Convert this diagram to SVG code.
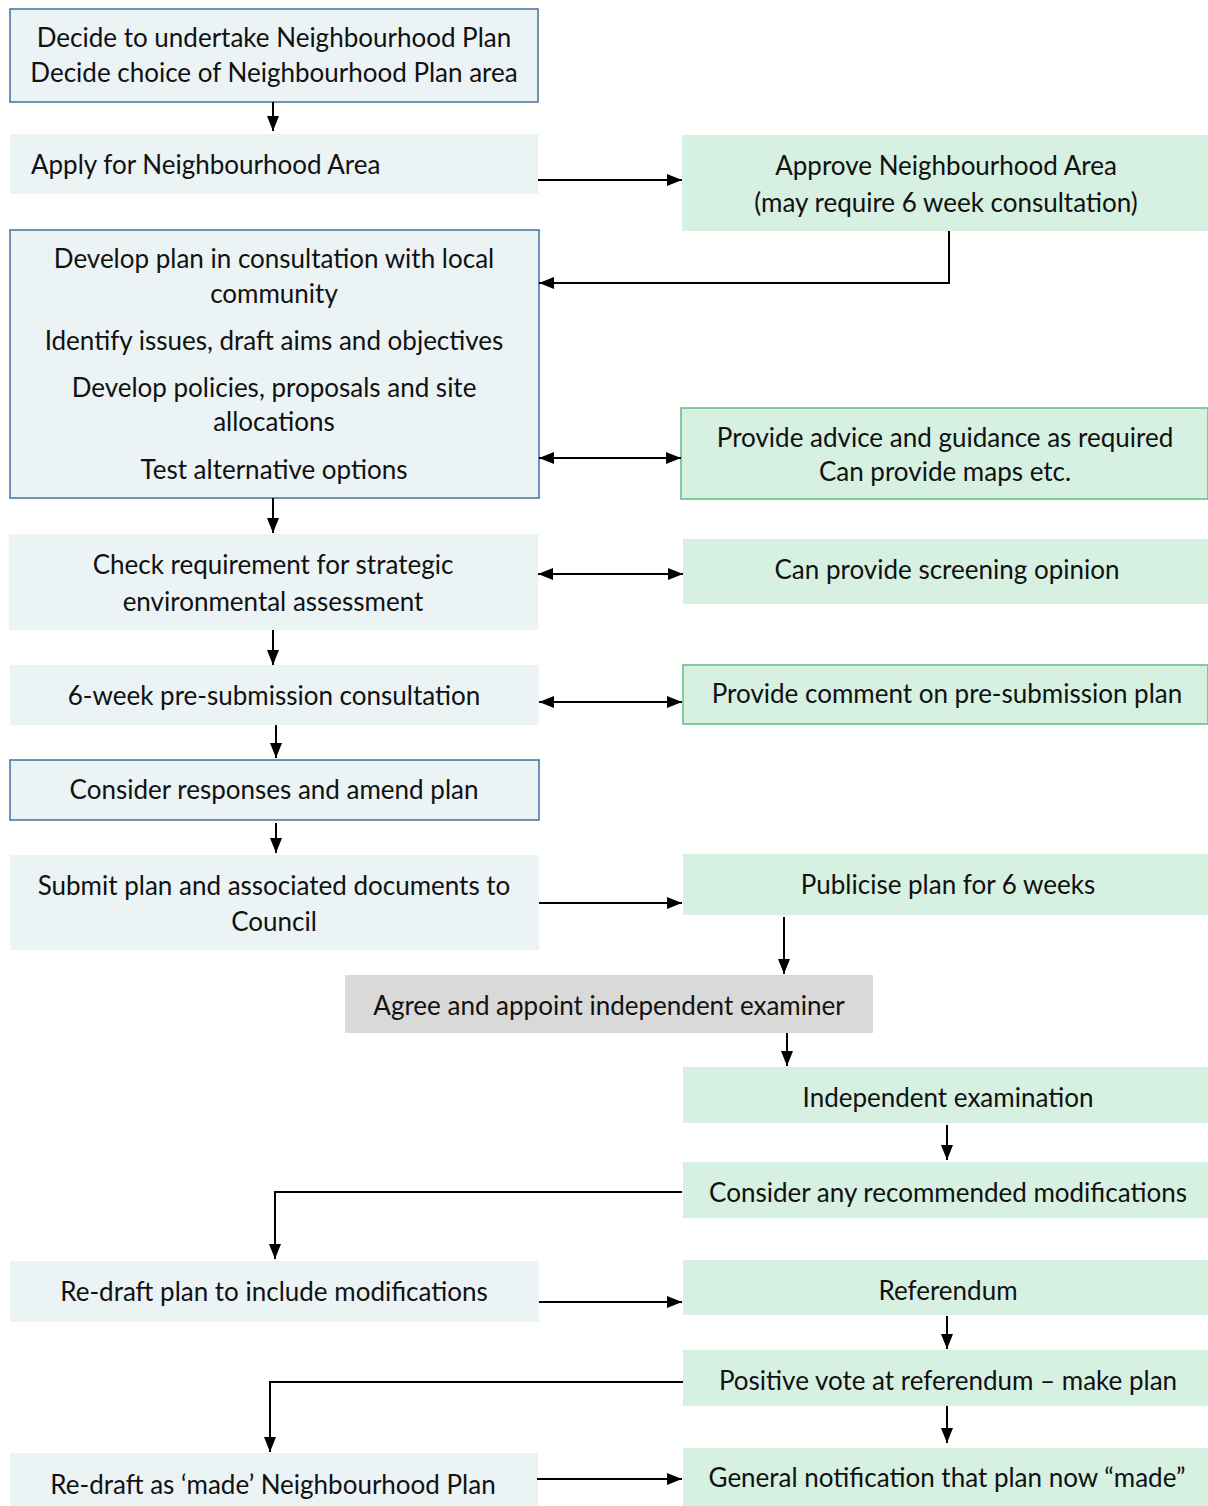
<svg xmlns="http://www.w3.org/2000/svg" width="1208" height="1506" viewBox="0 0 1208 1506">
<defs>
<style>
.blue{fill:#ebf3f5;}
.blueb{fill:#ebf3f5;stroke:#41719c;stroke-width:1.5;}
.green{fill:#d6f0e2;}
.greenb{fill:#d6f0e2;stroke:#5cbf7f;stroke-width:1.5;}
.gray{fill:#d9d9d9;}
text{font-family:Lato,"Liberation Sans",sans-serif;font-size:26px;fill:#111;text-anchor:middle;}
.l{text-anchor:start;}
.c{fill:none;stroke:#000;stroke-width:2;}
</style>
<marker id="ah" viewBox="0 0 15 12" refX="15" refY="6" markerWidth="15" markerHeight="12" markerUnits="userSpaceOnUse" orient="auto-start-reverse">
<path d="M0,0 L15,6 L0,12 z" fill="#000"/>
</marker>
</defs>
<rect width="1208" height="1506" fill="#fff"/>

<g id="n1"><rect class="blueb" x="10" y="9" width="528" height="93"/>
<text x="274" y="47">Decide to undertake Neighbourhood Plan</text>
<text x="274" y="82">Decide choice of Neighbourhood Plan area</text></g>

<g id="n2"><rect class="blue" x="10" y="134" width="528" height="60"/>
<text class="l" x="31" y="174">Apply for Neighbourhood Area</text></g>

<g id="n3"><rect class="green" x="682" y="135" width="526" height="96"/>
<text x="946" y="175">Approve Neighbourhood Area</text>
<text x="946" y="212">(may require 6 week consultation)</text></g>

<g id="n4"><rect class="blueb" x="10" y="230" width="529" height="268"/>
<text x="274" y="268">Develop plan in consultation with local</text>
<text x="274" y="303">community</text>
<text x="274" y="350">Identify issues, draft aims and objectives</text>
<text x="274" y="397">Develop policies, proposals and site</text>
<text x="274" y="431">allocations</text>
<text x="274" y="479">Test alternative options</text></g>

<g id="n5"><rect class="greenb" x="681" y="408" width="527" height="91"/>
<text x="945" y="447">Provide advice and guidance as required</text>
<text x="945" y="481">Can provide maps etc.</text></g>

<g id="n6"><rect class="blue" x="9" y="534" width="529" height="96"/>
<text x="273" y="574">Check requirement for strategic</text>
<text x="273" y="611">environmental assessment</text></g>

<g id="n7"><rect class="green" x="683" y="539" width="525" height="65"/>
<text x="947" y="579">Can provide screening opinion</text></g>

<g id="n8"><rect class="blue" x="10" y="665" width="529" height="60"/>
<text x="274" y="705">6-week pre-submission consultation</text></g>

<g id="n9"><rect class="greenb" x="683" y="665" width="525" height="59"/>
<text x="947" y="703">Provide comment on pre-submission plan</text></g>

<g id="n10"><rect class="blueb" x="10" y="760" width="529" height="60"/>
<text x="274" y="799">Consider responses and amend plan</text></g>

<g id="n11"><rect class="blue" x="10" y="855" width="529" height="95"/>
<text x="274" y="895">Submit plan and associated documents to</text>
<text x="274" y="931">Council</text></g>

<g id="n12"><rect class="green" x="683" y="854" width="525" height="61"/>
<text x="948" y="894">Publicise plan for 6 weeks</text></g>

<g id="n13"><rect class="gray" x="345" y="975" width="528" height="58"/>
<text x="609" y="1015">Agree and appoint independent examiner</text></g>

<g id="n14"><rect class="green" x="683" y="1067" width="525" height="56"/>
<text x="948" y="1107">Independent examination</text></g>

<g id="n15"><rect class="green" x="683" y="1162" width="525" height="56"/>
<text x="948" y="1202">Consider any recommended modifications</text></g>

<g id="n16"><rect class="blue" x="10" y="1261" width="529" height="61"/>
<text x="274" y="1301">Re-draft plan to include modifications</text></g>

<g id="n17"><rect class="green" x="683" y="1260" width="525" height="55"/>
<text x="948" y="1300">Referendum</text></g>

<g id="n18"><rect class="green" x="683" y="1350" width="525" height="56"/>
<text x="948" y="1390">Positive vote at referendum – make plan</text></g>

<g id="n19"><rect class="blue" x="10" y="1453" width="528" height="53"/>
<text x="273" y="1494">Re-draft as ‘made’ Neighbourhood Plan</text></g>

<g id="n20"><rect class="green" x="683" y="1448" width="525" height="58"/>
<text x="947" y="1487">General notification that plan now “made”</text></g>

<g id="connectors">
<path class="c" marker-end="url(#ah)" d="M273,102 V131"/>
<path class="c" marker-end="url(#ah)" d="M538,180 H682"/>
<path class="c" marker-end="url(#ah)" d="M949,231 V283 H539"/>
<path class="c" marker-start="url(#ah)" marker-end="url(#ah)" d="M539,458 H681"/>
<path class="c" marker-end="url(#ah)" d="M273,498 V533"/>
<path class="c" marker-start="url(#ah)" marker-end="url(#ah)" d="M538,574 H683"/>
<path class="c" marker-end="url(#ah)" d="M273,630 V665"/>
<path class="c" marker-start="url(#ah)" marker-end="url(#ah)" d="M539,702 H682"/>
<path class="c" marker-end="url(#ah)" d="M276,725 V758"/>
<path class="c" marker-end="url(#ah)" d="M276,823 V853"/>
<path class="c" marker-end="url(#ah)" d="M539,903 H682"/>
<path class="c" marker-end="url(#ah)" d="M784,917 V974"/>
<path class="c" marker-end="url(#ah)" d="M787,1033 V1066"/>
<path class="c" marker-end="url(#ah)" d="M947,1125 V1160"/>
<path class="c" marker-end="url(#ah)" d="M682,1192 H275 V1259"/>
<path class="c" marker-end="url(#ah)" d="M539,1302 H682"/>
<path class="c" marker-end="url(#ah)" d="M947,1316 V1349"/>
<path class="c" marker-end="url(#ah)" d="M683,1382 H270 V1452"/>
<path class="c" marker-end="url(#ah)" d="M947,1406 V1443"/>
<path class="c" marker-end="url(#ah)" d="M537,1479 H682"/>
</g>
</svg>
